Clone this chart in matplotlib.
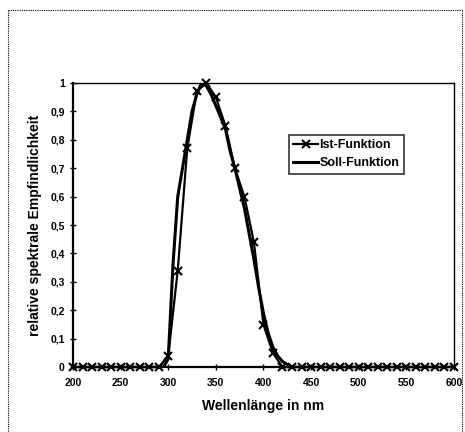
import matplotlib.pyplot as plt
from matplotlib.lines import Line2D
from matplotlib.ticker import FuncFormatter

# Messwerte (Ist) im 10-nm-Raster, Sollkurve im 5-nm-Raster
ist_nm = list(range(200, 610, 10))
ist_val = ([0.0] * 10 +
           [0.04, 0.34, 0.77, 0.97, 1.0, 0.95, 0.85, 0.70, 0.60, 0.44, 0.15, 0.05, 0.0] +
           [0.0] * 18)

soll_nm = [200, 295, 300, 305, 310, 315, 320, 325, 330, 335, 340, 345, 350, 355, 360,
           365, 370, 375, 380, 385, 390, 395, 400, 405, 410, 415, 420, 425, 430, 600]
soll_val = [0.0, 0.0, 0.03, 0.36, 0.6, 0.7, 0.8, 0.9, 0.96, 1.0, 0.99, 0.96, 0.92, 0.88, 0.84,
            0.76, 0.70, 0.63, 0.56, 0.47, 0.38, 0.28, 0.19, 0.12, 0.07, 0.04, 0.02, 0.01, 0.0, 0.0]

yticks = [0, 0.1, 0.2, 0.3, 0.4, 0.5, 0.6, 0.7, 0.8, 0.9, 1.0]
xticks = [200, 250, 300, 350, 400, 450, 500, 550, 600]

plt.rcParams['font.family'] = ['Liberation Sans', 'DejaVu Sans']
plt.rcParams['font.weight'] = 'bold'

fig = plt.figure(figsize=(4.65, 4.32), dpi=100)
ax = fig.add_axes([0.157, 0.150, 0.819, 0.658])

# gepunkteter Rahmen um das Diagramm
W, H = 465.0, 432.0
for xs, ys in [((8, 8), (10, 440)), ((8, 462), (10, 10)), ((462, 462), (10, 440))]:
    fig.add_artist(Line2D([x / W for x in xs], [1 - y / H for y in ys],
                          color='black', lw=0.8, ls=(0, (1, 1))))

ax.plot(soll_nm, soll_val, color='black', lw=2.2, label='Soll-Funktion', zorder=2)
ax.plot(ist_nm, ist_val, color='black', lw=1.6, marker='x', ms=6, mew=1.5,
        label='Ist-Funktion', zorder=3, clip_on=False)

ax.set_xlim(200, 600)
ax.set_ylim(0, 1)
ax.set_xticks(xticks)
ax.set_yticks(yticks)
ax.yaxis.set_major_formatter(FuncFormatter(
    lambda v, p: '0' if v == 0 else ('1' if v == 1 else ('%.1f' % v).replace('.', ','))))
ax.tick_params(direction='inout', length=5, width=1, labelsize=7.5)
ax.tick_params(axis='x', pad=5)

for s in ('left', 'bottom'):
    ax.spines[s].set_linewidth(1.6)
for s in ('top', 'right'):
    ax.spines[s].set_linestyle((0, (1, 1)))
    ax.spines[s].set_linewidth(1.0)

ax.set_xlabel('Wellenlänge in nm', fontsize=10, fontweight='bold', labelpad=8)
ax.set_ylabel('relative spektrale Empfindlichkeit', fontsize=10, fontweight='bold', labelpad=6)

h, l = ax.get_legend_handles_labels()
leg = ax.legend(h[::-1], l[::-1], loc='upper left', bbox_to_anchor=(0.55, 0.84),
                fontsize=9, frameon=True, fancybox=False, handlelength=2.0,
                handletextpad=0.1, borderpad=0.35, labelspacing=0.5)
leg.get_frame().set_edgecolor('black')
leg.get_frame().set_linewidth(1.2)

fig.savefig('out.png', dpi=100)
